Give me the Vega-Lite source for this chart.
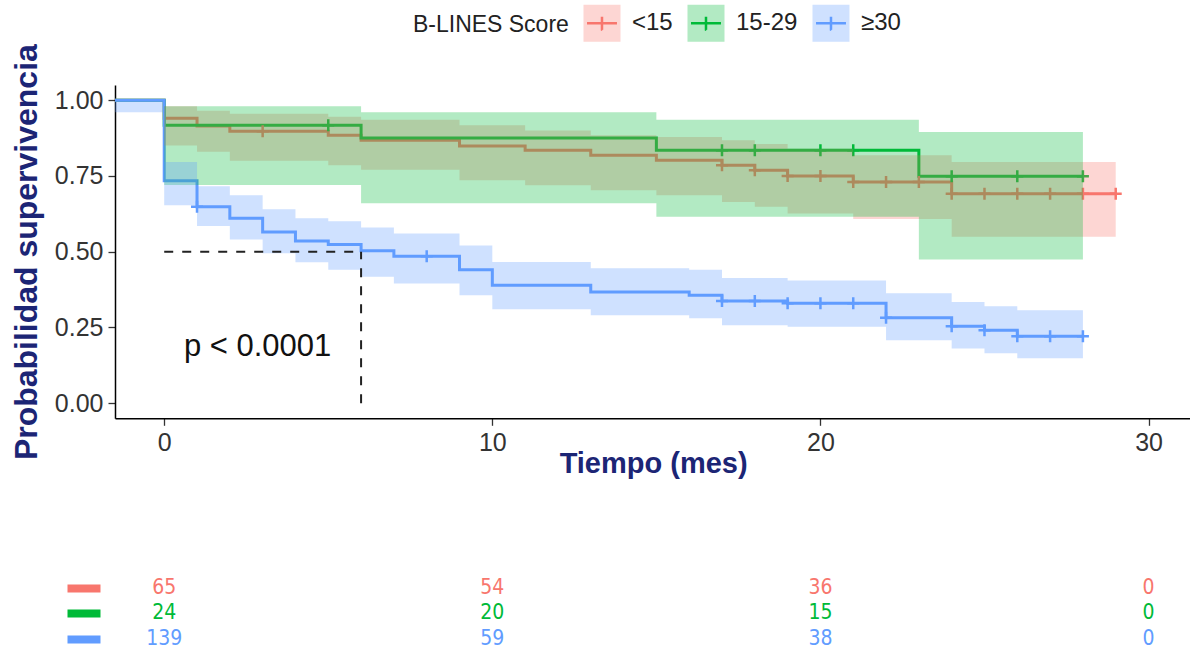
{
  "$schema": "https://vega.github.io/schema/vega-lite/v6.json",
  "background": "white",
  "padding": {"left": 10, "top": 3, "right": 0, "bottom": 5},
  "bounds": "flush",
  "spacing": 156,
  "resolve": {"scale": {"fill": "independent", "stroke": "independent"}, "legend": {"fill": "independent", "stroke": "independent"}},
  "config": {
    "view": {"stroke": null},
    "font": "Liberation Sans",
    "axis": {"grid": false, "domainColor": "#000000", "domainWidth": 1.5, "tickColor": "#333333", "tickWidth": 1.3, "tickSize": 7, "labelColor": "#333333", "labelFontSize": 25, "labelFont": "Liberation Sans", "titleFont": "Liberation Sans", "titleFontWeight": "bold", "titleColor": "#1c2575"},
    "legend": {"padding": 0}
  },
  "datasets": {
    "km": [
      {"group": "<15", "t": -1.5, "s": 1, "lo": 1, "hi": 1},
      {"group": "<15", "t": 0, "s": 0.94, "lo": 0.85, "hi": 0.98},
      {"group": "<15", "t": 1, "s": 0.915, "lo": 0.83, "hi": 0.965},
      {"group": "<15", "t": 2, "s": 0.897, "lo": 0.8, "hi": 0.955},
      {"group": "<15", "t": 5, "s": 0.884, "lo": 0.785, "hi": 0.945},
      {"group": "<15", "t": 6, "s": 0.868, "lo": 0.77, "hi": 0.935},
      {"group": "<15", "t": 9, "s": 0.849, "lo": 0.736, "hi": 0.917},
      {"group": "<15", "t": 11, "s": 0.835, "lo": 0.719, "hi": 0.9},
      {"group": "<15", "t": 13, "s": 0.818, "lo": 0.703, "hi": 0.884},
      {"group": "<15", "t": 15, "s": 0.802, "lo": 0.686, "hi": 0.878},
      {"group": "<15", "t": 17, "s": 0.785, "lo": 0.664, "hi": 0.868},
      {"group": "<15", "t": 18, "s": 0.769, "lo": 0.648, "hi": 0.855},
      {"group": "<15", "t": 19, "s": 0.75, "lo": 0.626, "hi": 0.84},
      {"group": "<15", "t": 21, "s": 0.73, "lo": 0.608, "hi": 0.818},
      {"group": "<15", "t": 24, "s": 0.691, "lo": 0.549, "hi": 0.796},
      {"group": "<15", "t": 29, "s": 0.691, "lo": 0.549, "hi": 0.796},
      {"group": "15-29", "t": -1.5, "s": 1, "lo": 1, "hi": 1},
      {"group": "15-29", "t": 0, "s": 0.917, "lo": 0.72, "hi": 0.98},
      {"group": "15-29", "t": 6, "s": 0.875, "lo": 0.66, "hi": 0.96},
      {"group": "15-29", "t": 15, "s": 0.835, "lo": 0.615, "hi": 0.935},
      {"group": "15-29", "t": 23, "s": 0.749, "lo": 0.474, "hi": 0.895},
      {"group": "15-29", "t": 28, "s": 0.749, "lo": 0.474, "hi": 0.895},
      {"group": "≥30", "t": -1.5, "s": 1, "lo": 0.96, "hi": 1},
      {"group": "≥30", "t": 0, "s": 0.734, "lo": 0.653, "hi": 0.796},
      {"group": "≥30", "t": 1, "s": 0.648, "lo": 0.585, "hi": 0.716},
      {"group": "≥30", "t": 2, "s": 0.61, "lo": 0.54, "hi": 0.686},
      {"group": "≥30", "t": 3, "s": 0.565, "lo": 0.495, "hi": 0.64},
      {"group": "≥30", "t": 4, "s": 0.535, "lo": 0.465, "hi": 0.61},
      {"group": "≥30", "t": 5, "s": 0.524, "lo": 0.44, "hi": 0.6},
      {"group": "≥30", "t": 6, "s": 0.503, "lo": 0.417, "hi": 0.58},
      {"group": "≥30", "t": 7, "s": 0.485, "lo": 0.395, "hi": 0.56},
      {"group": "≥30", "t": 9, "s": 0.44, "lo": 0.356, "hi": 0.52},
      {"group": "≥30", "t": 10, "s": 0.389, "lo": 0.31, "hi": 0.466},
      {"group": "≥30", "t": 13, "s": 0.367, "lo": 0.29, "hi": 0.445},
      {"group": "≥30", "t": 16, "s": 0.356, "lo": 0.28, "hi": 0.44},
      {"group": "≥30", "t": 17, "s": 0.337, "lo": 0.257, "hi": 0.413},
      {"group": "≥30", "t": 19, "s": 0.33, "lo": 0.252, "hi": 0.405},
      {"group": "≥30", "t": 22, "s": 0.282, "lo": 0.208, "hi": 0.363},
      {"group": "≥30", "t": 24, "s": 0.254, "lo": 0.18, "hi": 0.334},
      {"group": "≥30", "t": 25, "s": 0.241, "lo": 0.165, "hi": 0.32},
      {"group": "≥30", "t": 26, "s": 0.221, "lo": 0.148, "hi": 0.307},
      {"group": "≥30", "t": 28, "s": 0.221, "lo": 0.148, "hi": 0.307}
    ],
    "censor": [
      {"group": "<15", "t": 3, "s": 0.897},
      {"group": "<15", "t": 17, "s": 0.785},
      {"group": "<15", "t": 18, "s": 0.769},
      {"group": "<15", "t": 19, "s": 0.75},
      {"group": "<15", "t": 20, "s": 0.75},
      {"group": "<15", "t": 21, "s": 0.73},
      {"group": "<15", "t": 22, "s": 0.73},
      {"group": "<15", "t": 23, "s": 0.73},
      {"group": "<15", "t": 24, "s": 0.691},
      {"group": "<15", "t": 25, "s": 0.691},
      {"group": "<15", "t": 26, "s": 0.691},
      {"group": "<15", "t": 27, "s": 0.691},
      {"group": "<15", "t": 28, "s": 0.691},
      {"group": "<15", "t": 29, "s": 0.691},
      {"group": "15-29", "t": 5, "s": 0.917},
      {"group": "15-29", "t": 17, "s": 0.835},
      {"group": "15-29", "t": 18, "s": 0.835},
      {"group": "15-29", "t": 20, "s": 0.835},
      {"group": "15-29", "t": 21, "s": 0.835},
      {"group": "15-29", "t": 24, "s": 0.749},
      {"group": "15-29", "t": 26, "s": 0.749},
      {"group": "15-29", "t": 28, "s": 0.749},
      {"group": "≥30", "t": 1, "s": 0.648},
      {"group": "≥30", "t": 8, "s": 0.485},
      {"group": "≥30", "t": 17, "s": 0.337},
      {"group": "≥30", "t": 18, "s": 0.337},
      {"group": "≥30", "t": 19, "s": 0.33},
      {"group": "≥30", "t": 20, "s": 0.33},
      {"group": "≥30", "t": 21, "s": 0.33},
      {"group": "≥30", "t": 22, "s": 0.282},
      {"group": "≥30", "t": 24, "s": 0.254},
      {"group": "≥30", "t": 25, "s": 0.241},
      {"group": "≥30", "t": 26, "s": 0.221},
      {"group": "≥30", "t": 27, "s": 0.221},
      {"group": "≥30", "t": 28, "s": 0.221}
    ],
    "median": [
      {"t": 0, "t2": 6, "s": 0.5, "s2": 0.5},
      {"t": 6, "t2": 6, "s": 0, "s2": 0.5}
    ],
    "pval": [
      {"t": 0.6, "s": 0.185, "label": "p < 0.0001"}
    ],
    "risk": [
      {"group": "<15", "t": 0, "n": 65},
      {"group": "<15", "t": 10, "n": 54},
      {"group": "<15", "t": 20, "n": 36},
      {"group": "<15", "t": 30, "n": 0},
      {"group": "15-29", "t": 0, "n": 24},
      {"group": "15-29", "t": 10, "n": 20},
      {"group": "15-29", "t": 20, "n": 15},
      {"group": "15-29", "t": 30, "n": 0},
      {"group": "≥30", "t": 0, "n": 139},
      {"group": "≥30", "t": 10, "n": 59},
      {"group": "≥30", "t": 20, "n": 38},
      {"group": "≥30", "t": 30, "n": 0}
    ]
  },
  "vconcat": [
    {
      "width": 1076.2,
      "height": 333.3,
      "layer": [
        {
          "data": {"name": "km"},
          "mark": {"type": "line", "interpolate": "step-after", "strokeWidth": 3},
          "encoding": {
            "x": {"field": "t", "type": "quantitative", "title": "Tiempo (mes)", "scale": {"domain": [-1.5, 31.3], "nice": false, "zero": false}, "axis": {"values": [0, 10, 20, 30], "labelPadding": 5, "titleFontSize": 29, "titlePadding": -6, "labelFlush": false}},
            "y": {"field": "s", "type": "quantitative", "title": "Probabilidad supervivencia", "scale": {"domain": [-0.05, 1.05], "nice": false, "zero": false}, "axis": {"values": [0, 0.25, 0.5, 0.75, 1], "format": ".2f", "labelPadding": 5, "titleFontSize": 32, "titlePadding": 11}},
            "stroke": {"field": "group", "type": "nominal", "scale": {"domain": ["<15", "15-29", "≥30"], "range": ["#F8766D", "#00BA38", "#619CFF"]},
              "legend": {"orient": "none", "legendX": 298, "legendY": -82, "direction": "horizontal", "title": "B-LINES Score", "titleOrient": "left", "titleAnchor": "middle", "titleBaseline": "middle", "titleColor": "#222222", "labelColor": "#222222", "symbolType": "M-0.81,0L0.81,0L0,0L0,-0.35L0,0.35L1,1L-1,1L-1,-1L1,-1L1,1Z", "symbolSize": 1369, "symbolStrokeWidth": 2.5, "symbolDash": [65, 1000], "symbolOpacity": 1, "labelFontSize": 24, "titleFontSize": 23, "titleFontWeight": "normal", "labelOffset": 10, "columnPadding": 9, "titlePadding": 13}}
          }
        },
        {
          "data": {"name": "censor"},
          "mark": {"type": "point", "shape": "M-1,0L1,0M0,-1L0,1", "size": 144, "strokeWidth": 2.5, "filled": false, "opacity": 1},
          "encoding": {
            "x": {"field": "t", "type": "quantitative", "title": "Tiempo (mes)"},
            "y": {"field": "s", "type": "quantitative", "title": "Probabilidad supervivencia"},
            "stroke": {"field": "group", "type": "nominal"}
          }
        },
        {
          "data": {"name": "km"},
          "mark": {"type": "area", "interpolate": "step-after"},
          "encoding": {
            "x": {"field": "t", "type": "quantitative", "title": "Tiempo (mes)"},
            "y": {"field": "lo", "type": "quantitative", "title": "Probabilidad supervivencia"},
            "y2": {"field": "hi"},
            "fill": {"field": "group", "type": "nominal", "scale": {"domain": ["<15", "15-29", "≥30"], "range": ["rgba(248,118,109,0.3)", "rgba(0,186,56,0.3)", "rgba(97,156,255,0.3)"]},
              "legend": {"orient": "none", "legendX": 298, "legendY": -82, "direction": "horizontal", "title": "B-LINES Score", "titleOrient": "left", "titleAnchor": "middle", "titleBaseline": "middle", "titleColor": "#222222", "labelColor": "#222222", "symbolType": "M-0.81,0L0.81,0L0,0L0,-0.35L0,0.35L1,1L-1,1L-1,-1L1,-1L1,1Z", "symbolSize": 1369, "symbolStrokeWidth": 2.5, "symbolDash": [65, 1000], "symbolOpacity": 1, "labelFontSize": 24, "titleFontSize": 23, "titleFontWeight": "normal", "labelOffset": 10, "columnPadding": 9, "titlePadding": 13}}
          }
        },
        {
          "data": {"name": "median"},
          "mark": {"type": "rule", "strokeDash": [9, 9], "strokeWidth": 2, "color": "#222222"},
          "encoding": {
            "x": {"field": "t", "type": "quantitative", "title": "Tiempo (mes)"},
            "x2": {"field": "t2"},
            "y": {"field": "s", "type": "quantitative", "title": "Probabilidad supervivencia"},
            "y2": {"field": "s2"}
          }
        },
        {
          "data": {"name": "pval"},
          "mark": {"type": "text", "align": "left", "baseline": "middle", "fontSize": 31, "font": "Liberation Sans", "color": "#111111"},
          "encoding": {
            "x": {"field": "t", "type": "quantitative", "title": "Tiempo (mes)"},
            "y": {"field": "s", "type": "quantitative", "title": "Probabilidad supervivencia"},
            "text": {"field": "label", "type": "nominal"}
          }
        }
      ]
    },
    {
      "width": 1076.2,
      "height": {"step": 25.5},
      "data": {"name": "risk"},
      "mark": {"type": "text", "fontSize": 21, "font": "Liberation Sans Narrow, DejaVu Sans Condensed, Liberation Sans", "baseline": "middle", "align": "center"},
      "encoding": {
        "x": {"field": "t", "type": "quantitative", "scale": {"domain": [-1.5, 31.3], "nice": false, "zero": false}, "axis": null},
        "y": {"field": "group", "type": "nominal", "sort": ["<15", "15-29", "≥30"],
          "axis": {"title": null, "labels": false, "domain": false, "ticks": true, "tickSize": 33, "tickWidth": 8, "tickCap": "butt", "offset": 15,
            "tickColor": {"condition": [{"test": "datum.value === '<15'", "value": "#F8766D"}, {"test": "datum.value === '15-29'", "value": "#00BA38"}], "value": "#619CFF"}}},
        "text": {"field": "n", "type": "quantitative"},
        "fill": {"field": "group", "type": "nominal", "scale": {"domain": ["<15", "15-29", "≥30"], "range": ["#F8766D", "#00BA38", "#619CFF"]}, "legend": null}
      }
    }
  ]
}
